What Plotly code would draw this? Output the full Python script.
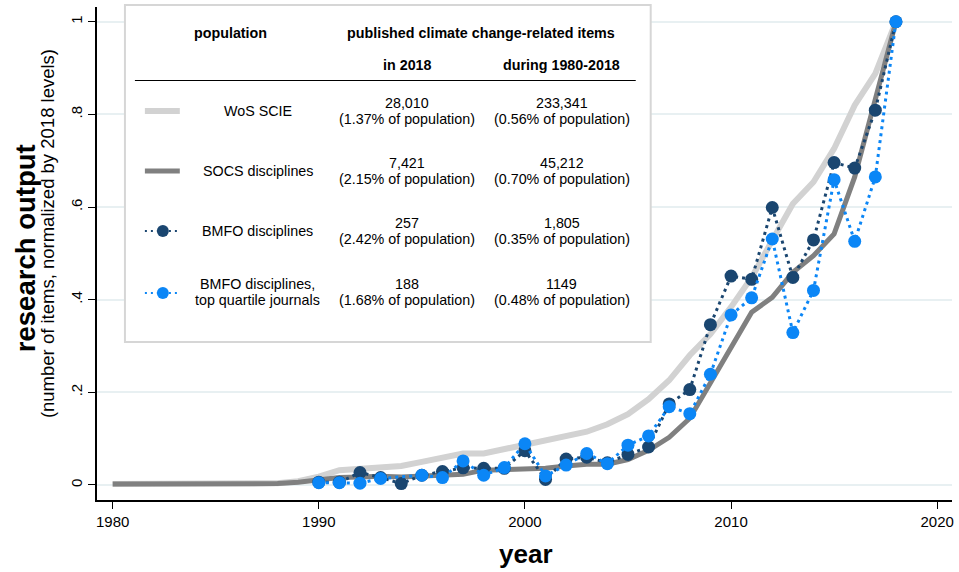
import plotly.graph_objects as go

# ---- data -------------------------------------------------------------
years = list(range(1980, 2019))

wos_scie = [0.002, 0.002, 0.002, 0.002, 0.002, 0.002, 0.002, 0.002, 0.004, 0.008,
            0.018, 0.032, 0.034, 0.039, 0.041, 0.050, 0.059, 0.068, 0.068, 0.078,
            0.088, 0.095, 0.106, 0.115, 0.131, 0.153, 0.185, 0.226, 0.280, 0.326,
            0.384, 0.448, 0.528, 0.607, 0.654, 0.726, 0.820, 0.888, 1.000]

socs = [0.002, 0.002, 0.003, 0.003, 0.003, 0.003, 0.002, 0.002, 0.003, 0.006,
        0.010, 0.016, 0.017, 0.019, 0.017, 0.019, 0.019, 0.023, 0.032, 0.034,
        0.036, 0.036, 0.041, 0.045, 0.045, 0.055, 0.075, 0.103, 0.144, 0.220,
        0.297, 0.373, 0.405, 0.459, 0.495, 0.542, 0.665, 0.831, 1.000]

bmfo_years = list(range(1990, 2019))

bmfo = [0.006, 0.006, 0.027, 0.016, 0.003, 0.021, 0.029, 0.037, 0.036, 0.036,
        0.074, 0.012, 0.056, 0.060, 0.048, 0.066, 0.082, 0.175, 0.206, 0.346,
        0.451, 0.444, 0.599, 0.448, 0.529, 0.696, 0.684, 0.809, 1.000]

bmfo_top = [0.005, 0.005, 0.004, 0.014, None, 0.021, 0.016, 0.052, 0.021, 0.0375,
            0.089, 0.0195, 0.043, 0.068, 0.046, 0.086, 0.106, 0.169, 0.154, 0.239,
            0.367, 0.404, 0.531, 0.329, 0.420, 0.659, 0.526, 0.665, 1.000]

x_ticks = [1980, 1990, 2000, 2010, 2020]
y_ticks = [0, 0.2, 0.4, 0.6, 0.8, 1]
y_tick_labels = ["0", ".2", ".4", ".6", ".8", "1"]

# summary table shown in the key
table_header = ["population", "published climate change-related items"]
table_subheader = ["in 2018", "during 1980-2018"]
row_names = [["WoS SCIE"], ["SOCS disciplines"], ["BMFO disciplines"],
             ["BMFO disciplines,", "top quartile journals"]]
items_2018 = ["28,010", "7,421", "257", "188"]
share_2018 = ["1.37%", "2.15%", "2.42%", "1.68%"]
items_total = ["233,341", "45,212", "1,805", "1149"]
share_total = ["0.56%", "0.70%", "0.35%", "0.48%"]

# ---- styling ------------------------------------------------------------
FONT = "Liberation Sans"
C_WOS = "#d2d2d2"
C_SOCS = "#808080"
C_BMFO = "#1a4670"
C_TOP = "#0b86f6"
GRID = "#e8f0f2"

W, H = 959, 572
ML, MR, MT, MB = 97, 5, 7, 72
PW, PH = W - ML - MR, H - MT - MB


def fx(px):
    return (px - ML) / PW


def fy(py):
    return (H - MB - py) / PH


fig = go.Figure()

fig.add_trace(go.Scatter(x=years, y=wos_scie, mode="lines",
                         line=dict(color=C_WOS, width=6), name="WoS SCIE"))
fig.add_trace(go.Scatter(x=years, y=socs, mode="lines",
                         line=dict(color=C_SOCS, width=5), name="SOCS disciplines"))
fig.add_trace(go.Scatter(x=bmfo_years, y=bmfo, mode="lines+markers",
                         line=dict(color=C_BMFO, width=3, dash="3px,4px"),
                         marker=dict(color=C_BMFO, size=13, line=dict(width=0)),
                         name="BMFO disciplines"))
fig.add_trace(go.Scatter(x=bmfo_years, y=bmfo_top, mode="lines+markers",
                         connectgaps=True,
                         line=dict(color=C_TOP, width=3, dash="3px,4px"),
                         marker=dict(color=C_TOP, size=13, line=dict(width=0)),
                         name="BMFO disciplines, top quartile journals"))

shapes = []
annotations = []

# key box
shapes.append(dict(type="rect", xref="paper", yref="paper",
                   x0=fx(125), x1=fx(652), y0=fy(342), y1=fy(5),
                   line=dict(color="#d6d6d6", width=2), fillcolor="white",
                   layer="above"))
shapes.append(dict(type="line", xref="paper", yref="paper",
                   x0=fx(135), x1=fx(637), y0=fy(80.5), y1=fy(80.5),
                   line=dict(color="black", width=1.2), layer="above"))

row_y = [111, 171, 231, 291.5]
sym_x0, sym_x1, sym_xc = 145, 180, 163

shapes.append(dict(type="line", xref="paper", yref="paper",
                   x0=fx(sym_x0), x1=fx(sym_x1), y0=fy(row_y[0]), y1=fy(row_y[0]),
                   line=dict(color=C_WOS, width=6), layer="above"))
shapes.append(dict(type="line", xref="paper", yref="paper",
                   x0=fx(sym_x0), x1=fx(sym_x1), y0=fy(row_y[1]), y1=fy(row_y[1]),
                   line=dict(color=C_SOCS, width=5), layer="above"))
for ry, col in [(row_y[2], C_BMFO), (row_y[3] + 1.5, C_TOP)]:
    shapes.append(dict(type="line", xref="paper", yref="paper",
                       x0=fx(sym_x0), x1=fx(sym_x1), y0=fy(ry), y1=fy(ry),
                       line=dict(color=col, width=2, dash="2px,4px"), layer="above"))
    shapes.append(dict(type="circle", xref="paper", yref="paper",
                       xsizemode="pixel", ysizemode="pixel",
                       xanchor=fx(sym_xc), yanchor=fy(ry),
                       x0=-6, x1=6, y0=-6, y1=6,
                       line=dict(width=0), fillcolor=col, layer="above"))


def note(text, px, py, size=14.3, bold=False, angle=0):
    annotations.append(dict(
        text=f"<b>{text}</b>" if bold else text,
        xref="paper", yref="paper", x=fx(px), y=fy(py),
        xanchor="center", yanchor="middle", showarrow=False,
        textangle=angle, font=dict(family=FONT, size=size, color="black")))


note(table_header[0], 231, 33.5, bold=True)
note(table_header[1], 482, 33.5, bold=True)
note(table_subheader[0], 408, 65.5, bold=True)
note(table_subheader[1], 563, 65.5, bold=True)

LINE_GAP = 16
for i, ry in enumerate(row_y):
    names = row_names[i]
    if len(names) == 1:
        note(names[0], 258, ry)
    else:
        note(names[0], 258, ry - LINE_GAP / 2)
        note(names[1], 258, ry + LINE_GAP / 2)
    note(items_2018[i], 408, ry - LINE_GAP / 2)
    note(f"({share_2018[i]} of population)", 408, ry + LINE_GAP / 2)
    note(items_total[i], 563, ry - LINE_GAP / 2)
    note(f"({share_total[i]} of population)", 563, ry + LINE_GAP / 2)

# axis titles
note("research output", 26, 248, size=27.5, bold=True, angle=-90)
note("(number of items, normalized by 2018 levels)", 47, 234, size=18.5, angle=-90)
note("year", 527, 554, size=26, bold=True)

fig.update_layout(
    width=W, height=H, autosize=False,
    margin=dict(l=ML, r=MR, t=MT, b=MB, pad=0),
    paper_bgcolor="white", plot_bgcolor="white",
    showlegend=False,
    font=dict(family=FONT, size=15, color="black"),
    shapes=shapes, annotations=annotations,
    xaxis=dict(range=[1979.24, 2020.72], tickvals=x_ticks,
               ticks="outside", ticklen=7, tickwidth=1, tickcolor="black",
               showline=True, linecolor="black", linewidth=1.5,
               showgrid=False, zeroline=False,
               tickfont=dict(family=FONT, size=15)),
    yaxis=dict(range=[-0.0324, 1.0318], tickvals=y_ticks, ticktext=y_tick_labels,
               tickangle=-90,
               ticks="outside", ticklen=7, tickwidth=1, tickcolor="black",
               showline=True, linecolor="black", linewidth=1.5,
               showgrid=True, gridcolor=GRID, gridwidth=1.5, zeroline=False,
               tickfont=dict(family=FONT, size=15)),
)

fig.write_html("out.html")
